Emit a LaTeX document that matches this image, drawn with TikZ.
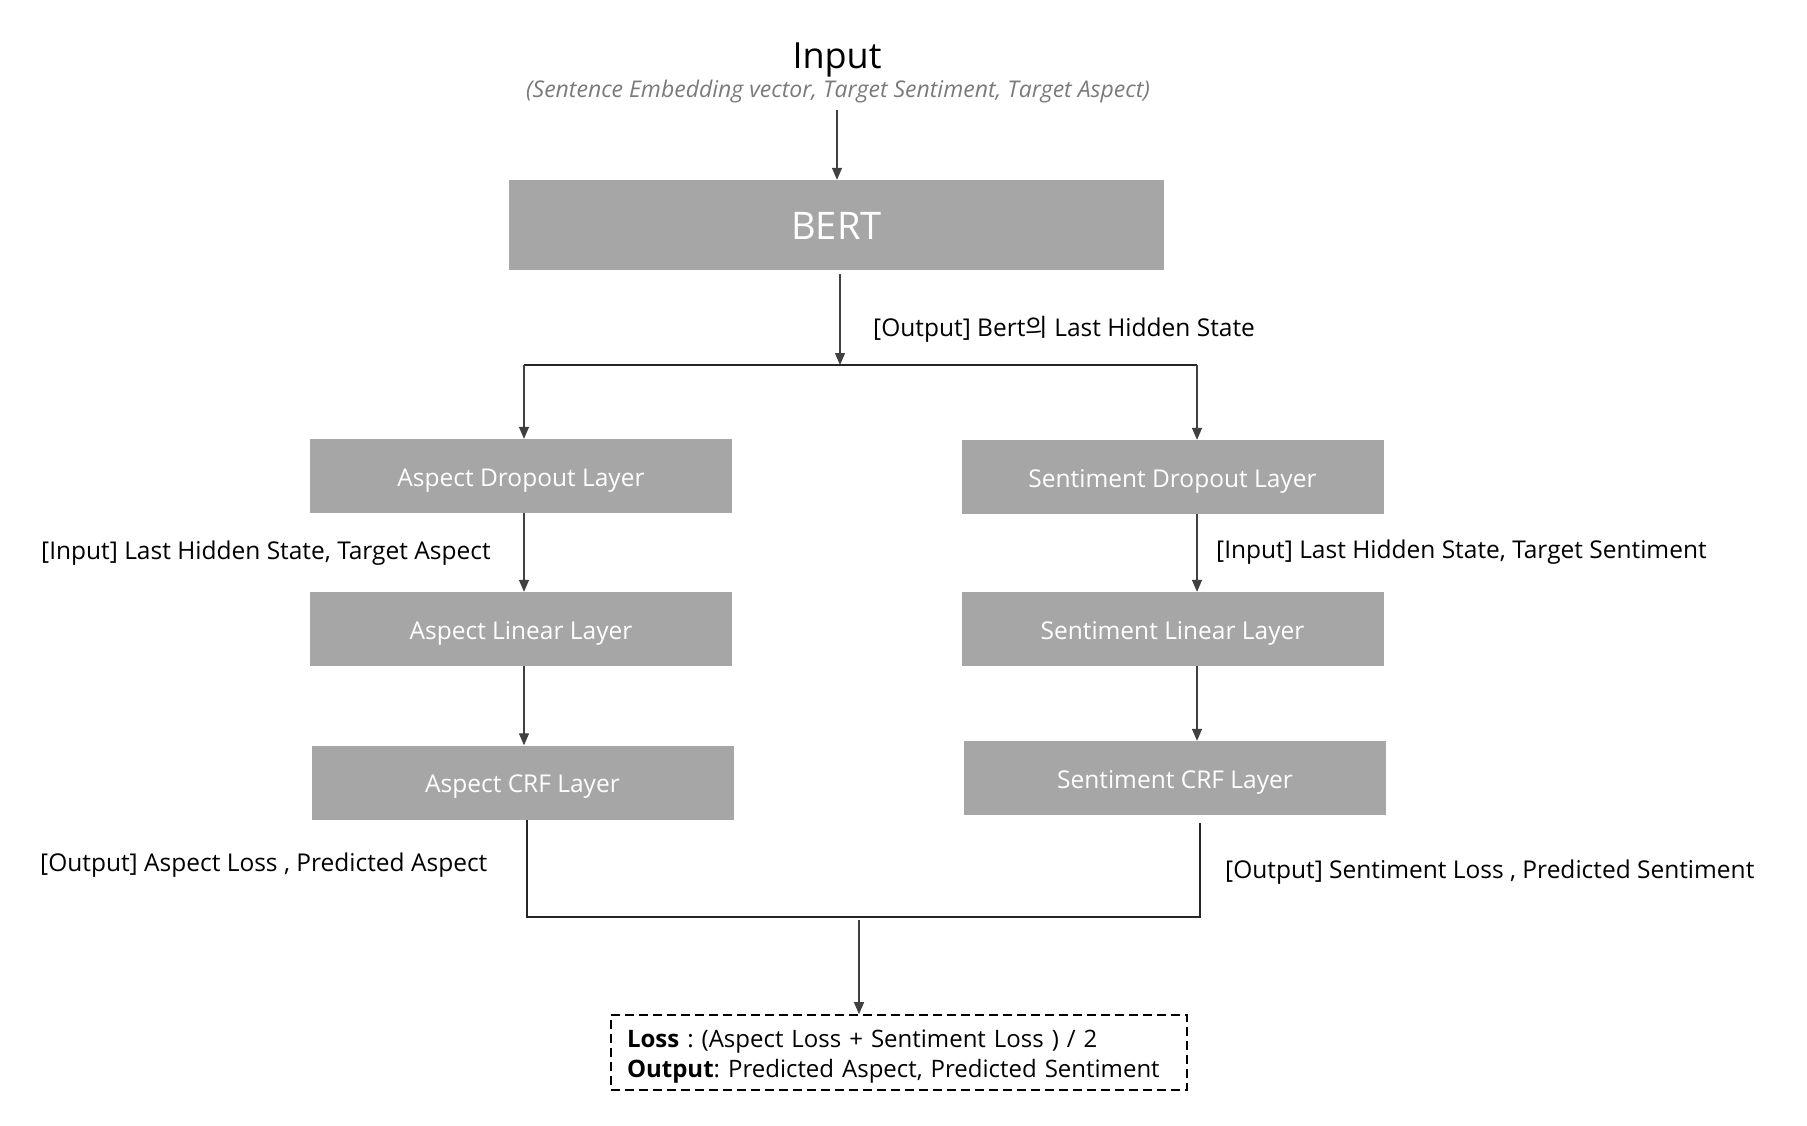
\documentclass[tikz,border=0pt]{standalone}
\usepackage{fontspec}
\setmainfont{Open Sans}
\newfontfamily\krfont{Noto Sans CJK KR}
\usepackage{xcolor}
\usepackage{tikz}
\usetikzlibrary{positioning, arrows.meta, calc}

\definecolor{layergray}{RGB}{166,166,166}
\definecolor{flowgray}{RGB}{64,64,64}
\definecolor{subgray}{RGB}{122,122,122}

\begin{document}
\frenchspacing
\begin{tikzpicture}[x=1pt, y=-1pt,
    layer/.style={rectangle, fill=layergray, text=white, minimum width=422pt, minimum height=74pt, inner sep=0pt, text height=21pt, text depth=1pt, font=\fontsize{24.5}{28}\selectfont},
    note/.style={anchor=west, inner sep=0pt, text height=17pt, text depth=1pt, font=\fontsize{24.5}{28}\selectfont},
    flow/.style={-{Triangle[length=12pt, width=10pt]}, draw=flowgray, line width=1.3pt},
    mergeline/.style={draw=black!85, line width=1.3pt}]
        \useasboundingbox (0,0) rectangle (1807,1125);

        % Input nodes
        \node[inner sep=0pt, font=\fontsize{36}{40}\selectfont] (input) at (837,60) {Input};
        \node[inner sep=0pt, text=subgray, text height=16pt, text depth=1pt, font=\fontsize{23}{26}\selectfont\itshape] (inputsub) at (838,90) {(Sentence Embedding vector, Target Sentiment, Target Aspect)};

        % Layer nodes
        \node[layer, minimum width=655pt, minimum height=90pt, text height=30pt, font=\fontsize{38}{42}\selectfont] (bert) at (836.5,225) {BERT};
        \node[layer] (adrop) at (521,476) {Aspect Dropout Layer};
        \node[layer] (sdrop) at (1172.5,477) {Sentiment Dropout Layer};
        \node[layer] (alin) at (521,629) {Aspect Linear Layer};
        \node[layer] (slin) at (1172.5,629) {Sentiment Linear Layer};
        \node[layer] (acrf) at (522.5,782.5) {Aspect CRF Layer};
        \node[layer] (scrf) at (1175,778) {Sentiment CRF Layer};

        % Result node
        \node[draw, line width=1.6pt, dash pattern=on 9pt off 5pt, minimum height=75pt, inner xsep=16pt, inner ysep=0pt, text width=544pt, align=left, font=\fontsize{24}{30}\selectfont] (loss) at (899,1052.5) {\rule{0pt}{26pt}\textbf{Loss} : (Aspect Loss + Sentiment Loss ) / 2\\\textbf{Output}: Predicted Aspect, Predicted Sentiment};

        % Labels
        \node[note] (bertout) at (873,328) {[Output] Bert{\krfont 의} Last Hidden State};
        \node[note] (ain) at (41,551) {[Input] Last Hidden State, Target Aspect};
        \node[note] (sin) at (1216,550) {[Input] Last Hidden State, Target Sentiment};
        \node[note] (aout) at (40,863) {[Output] Aspect Loss , Predicted Aspect};
        \node[note] (sout) at (1225,870) {[Output] Sentiment Loss , Predicted Sentiment};

        % Split and merge points
        \coordinate (splitM) at (840,365);
        \coordinate (splitL) at (524,365);
        \coordinate (splitR) at (1197,365);
        \coordinate (mergeL) at (527,917);
        \coordinate (mergeR) at (1200,917);
        \coordinate (mergeM) at (859,917);

        % Arrows
        \draw[flow] (inputsub.south -| input) ++(0,11) -- (bert.north -| input);
        \draw[flow] (bert.south -| splitM) ++(0,4) -- (splitM);
        \draw[mergeline] (splitL) -- (splitR);
        \draw[flow] (splitL) -- (splitL |- adrop.north);
        \draw[flow] (splitR) -- (splitR |- sdrop.north);
        \draw[flow] (splitL |- adrop.south) -- (splitL |- alin.north);
        \draw[flow] (splitR |- sdrop.south) -- (splitR |- slin.north);
        \draw[flow] (splitL |- alin.south) -- (splitL |- acrf.north);
        \draw[flow] (splitR |- slin.south) -- (splitR |- scrf.north);
        \draw[mergeline] (mergeL |- acrf.south) -- (mergeL) -- (mergeR) -- ([yshift=-8pt]mergeR |- scrf.south);
        \draw[flow] ([yshift=-3pt]mergeM) -- (mergeM |- loss.north);
    \end{tikzpicture}
\end{document}
